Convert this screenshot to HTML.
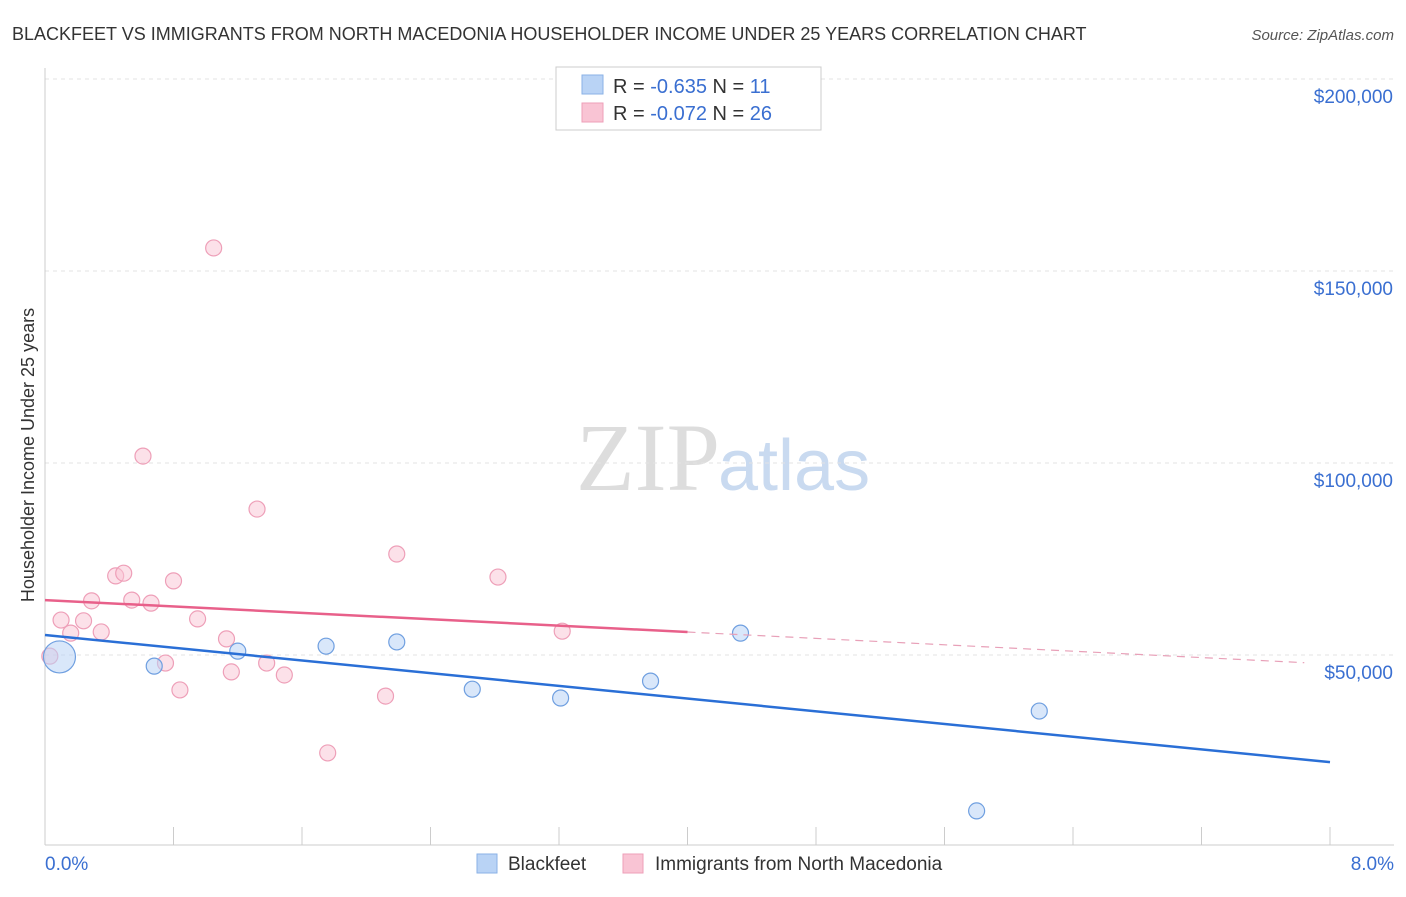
<!DOCTYPE html>
<html><head><meta charset="utf-8"><style>
body{margin:0;background:#fff;font-family:"Liberation Sans",sans-serif;}
svg text{font-family:"Liberation Sans",sans-serif;}
</style></head><body>
<svg id="c" width="1406" height="892" xmlns="http://www.w3.org/2000/svg">
<text x="12" y="40" font-size="18" fill="#333">BLACKFEET VS IMMIGRANTS FROM NORTH MACEDONIA HOUSEHOLDER INCOME UNDER 25 YEARS CORRELATION CHART</text>
<text x="1394" y="40" font-size="15" fill="#555" font-style="italic" text-anchor="end">Source: ZipAtlas.com</text>
<text transform="translate(34,455) rotate(-90)" font-size="18" fill="#333" text-anchor="middle">Householder Income Under 25 years</text>
<text x="720" y="490" font-size="96" fill="#ddd" text-anchor="end" font-family="Liberation Serif" style="font-family:'Liberation Serif',serif">ZIP</text>
<text x="718" y="490" font-size="72" fill="#c9daf0">atlas</text>
<g id="grid"></g><g id="marks"></g>
<g>
<rect x="556" y="67" width="265" height="63" fill="#fff" stroke="#ccc"/>
<rect x="582" y="75" width="21" height="19" fill="#b9d3f5" stroke="#8ab1e6"/>
<rect x="582" y="103" width="21" height="19" fill="#f9c4d4" stroke="#ee9fb8"/>
<text x="613" y="93" font-size="20" fill="#333">R = <tspan fill="#3a6fd1">-0.635</tspan>   N =  <tspan fill="#3a6fd1">11</tspan></text>
<text x="613" y="120" font-size="20" fill="#333">R = <tspan fill="#3a6fd1">-0.072</tspan>   N = <tspan fill="#3a6fd1">26</tspan></text>
</g>
<g>
<rect x="477" y="854" width="20" height="19" fill="#b9d3f5" stroke="#8ab1e6"/>
<text x="508" y="870" font-size="19" fill="#333">Blackfeet</text>
<rect x="623" y="854" width="20" height="19" fill="#f9c4d4" stroke="#ee9fb8"/>
<text x="655" y="870" font-size="19" fill="#333">Immigrants from North Macedonia</text>
</g>
</svg>
<script>
const yTicks=[50000,100000,150000,200000];
const yTickLabels=["$50,000","$100,000","$150,000","$200,000"];
const xTickLabels=["0.0%","8.0%"];
const blueX=[0.09,0.68,1.20,1.75,2.19,2.66,3.21,3.77,4.33,6.19,5.80];
const blueY=[49500,47100,51000,52300,53400,41100,38800,43200,55700,35400,9400];
const pinkX=[0.03,0.10,0.16,0.24,0.29,0.35,0.44,0.49,0.54,0.61,0.66,0.75,0.80,0.84,0.95,1.05,1.13,1.16,1.32,1.38,1.49,1.76,2.12,2.19,2.82,3.22];
const pinkY=[49700,59100,55700,58900,64100,56000,70600,71300,64300,101800,63500,47900,69300,40900,59400,156000,54200,45600,88000,47900,44800,24500,39300,76300,70300,56200];
const blueTrend=[55200,22100];
const pinkTrend=[64300,48000];
const X=v=>45+v/8*1285, Y=v=>847-v/50000*192;
const ns="http://www.w3.org/2000/svg";
function mk(p,t,a){const e=document.createElementNS(ns,t);for(const k in a)e.setAttribute(k,a[k]);p.appendChild(e);return e;}
const g=document.getElementById('grid'), m=document.getElementById('marks');
yTicks.forEach((t,i)=>{
 const l=mk(g,'line',{x1:45,x2:1394,y1:Y(t),y2:Y(t),stroke:'#e3e3e3','stroke-dasharray':'4,4'});
 
 
 const tx=mk(g,'text',{x:1393,y:Y(t)+24,'font-size':19,fill:'#3a6fd1','text-anchor':'end'});
 tx.textContent=yTickLabels[i];
 
 
});
const ax=mk(g,'line',{x1:45,x2:1394,y1:845,y2:845,stroke:'#ccc'});


const ay=mk(g,'line',{x1:45,x2:45,y1:68,y2:845,stroke:'#ccc'});


for(let i=1;i<=10;i++){
 const t=mk(g,'line',{x1:X(i*0.8),x2:X(i*0.8),y1:827,y2:845,stroke:'#ccc'});
 
 
}
[[0,'start',45],[8,'end',1394]].forEach((d,i)=>{
 const t=mk(g,'text',{x:d[2],y:870,'font-size':19,fill:'#3a6fd1','text-anchor':d[1]});
 t.textContent=xTickLabels[i];
 
 
});
pinkX.forEach((x,i)=>{
 const c=mk(m,'circle',{cx:X(x),cy:Y(pinkY[i]),r:8,fill:'rgba(249,196,212,0.5)',stroke:'#ee9fb8','stroke-width':1.2});
 
 
});
blueX.forEach((x,i)=>{
 const c=mk(m,'circle',{cx:X(x),cy:Y(blueY[i]),r:i==0?16:8,fill:'rgba(185,211,245,0.55)',stroke:'#6f9fe0','stroke-width':1.2});
 
 
});
const bl=mk(m,'line',{x1:X(0),y1:Y(blueTrend[0]),x2:X(8),y2:Y(blueTrend[1]),stroke:'#2a6fd6','stroke-width':2.5});


const pk=v=>pinkTrend[0]+(pinkTrend[1]-pinkTrend[0])*v/7.84;
const pl=mk(m,'line',{x1:X(0),y1:Y(pk(0)),x2:X(4),y2:Y(pk(4)),stroke:'#e8608a','stroke-width':2.5});


const pd=mk(m,'line',{x1:X(4),y1:Y(pk(4)),x2:X(7.84),y2:Y(pk(7.84)),stroke:'#e8a0b8','stroke-width':1.2,'stroke-dasharray':'8,6'});


</script>
</body></html>
